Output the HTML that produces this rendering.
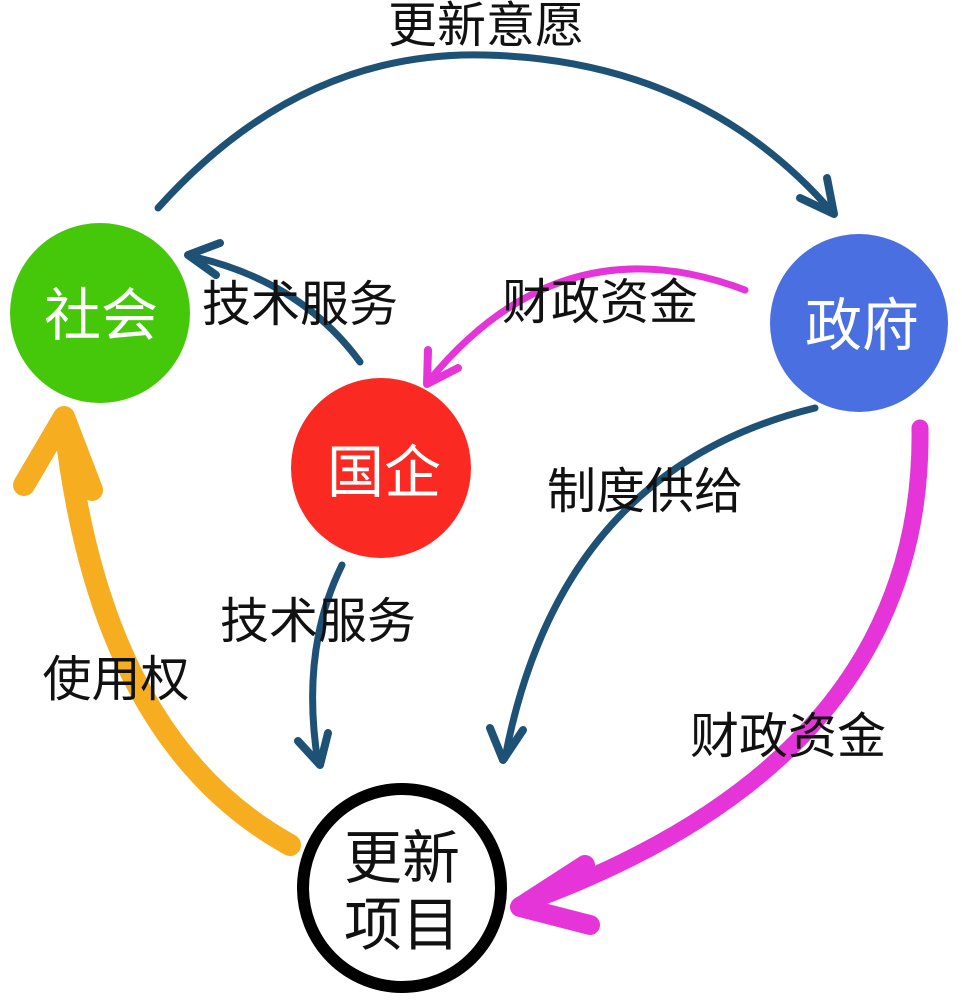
<!DOCTYPE html>
<html><head><meta charset="utf-8"><style>
html,body{margin:0;padding:0;background:#fff;}
svg{display:block;}
text{font-family:"Liberation Sans","Noto Sans CJK SC",sans-serif;}
</style></head><body>
<svg width="962" height="1006" viewBox="0 0 962 1006" xmlns="http://www.w3.org/2000/svg">
<g fill="none" stroke-linecap="round" stroke-linejoin="round">
<path d="M158,208 Q300,50 485,55 Q700,60 832,212" stroke="#1d5276" stroke-width="7"/>
<path d="M800,198 L834,214 L827,178" stroke="#1d5276" stroke-width="8"/>
<path d="M360,362 Q300,280 190,256" stroke="#1d5276" stroke-width="7"/>
<path d="M220,243 L188,255 L216,275" stroke="#1d5276" stroke-width="8"/>
<path d="M745,290 Q560,220 428,382" stroke="#e535d8" stroke-width="7"/>
<path d="M428,350 L427,384 L458,368" stroke="#e535d8" stroke-width="8"/>
<path d="M815,408 Q560,470 505,758" stroke="#1d5276" stroke-width="7"/>
<path d="M490,728 L503,760 L523,730" stroke="#1d5276" stroke-width="8"/>
<path d="M342,565 Q300,650 318,763" stroke="#1d5276" stroke-width="7"/>
<path d="M298,741 L320,765 L328,733" stroke="#1d5276" stroke-width="8"/>
<path d="M920,428 Q925,760 520,905" stroke="#e535d8" stroke-width="17"/>
<path d="M585,865 L520,907 L590,925" stroke="#e535d8" stroke-width="20"/>
<path d="M290,845 Q100,740 65,425" stroke="#f6ae20" stroke-width="22"/>
<path d="M24,485 L64,417 L92,490" stroke="#f6ae20" stroke-width="22"/>
</g>
<circle cx="100" cy="313" r="90" fill="#45c70a"/>
<circle cx="859" cy="323" r="89" fill="#4a6fe0"/>
<circle cx="381" cy="468" r="90" fill="#fa2a22"/>
<circle cx="402" cy="888" r="99" fill="#fff" stroke="#000" stroke-width="12"/>
<g font-size="57" fill="#fff" text-anchor="middle">
<text x="101" y="335">社会</text>
<text x="862" y="345">政府</text>
<text x="384" y="492">国企</text>
</g>
<g font-size="58" fill="#111" text-anchor="middle">
<text x="402" y="878">更新</text>
<text x="402" y="945">项目</text>
</g>
<g font-size="49" fill="#111" text-anchor="middle">
<text x="486" y="42">更新意愿</text>
<text x="300" y="321">技术服务</text>
<text x="600" y="319">财政资金</text>
<text x="645" y="508">制度供给</text>
<text x="318" y="638">技术服务</text>
<text x="116" y="696">使用权</text>
<text x="788" y="753">财政资金</text>
</g>
</svg>
</body></html>
